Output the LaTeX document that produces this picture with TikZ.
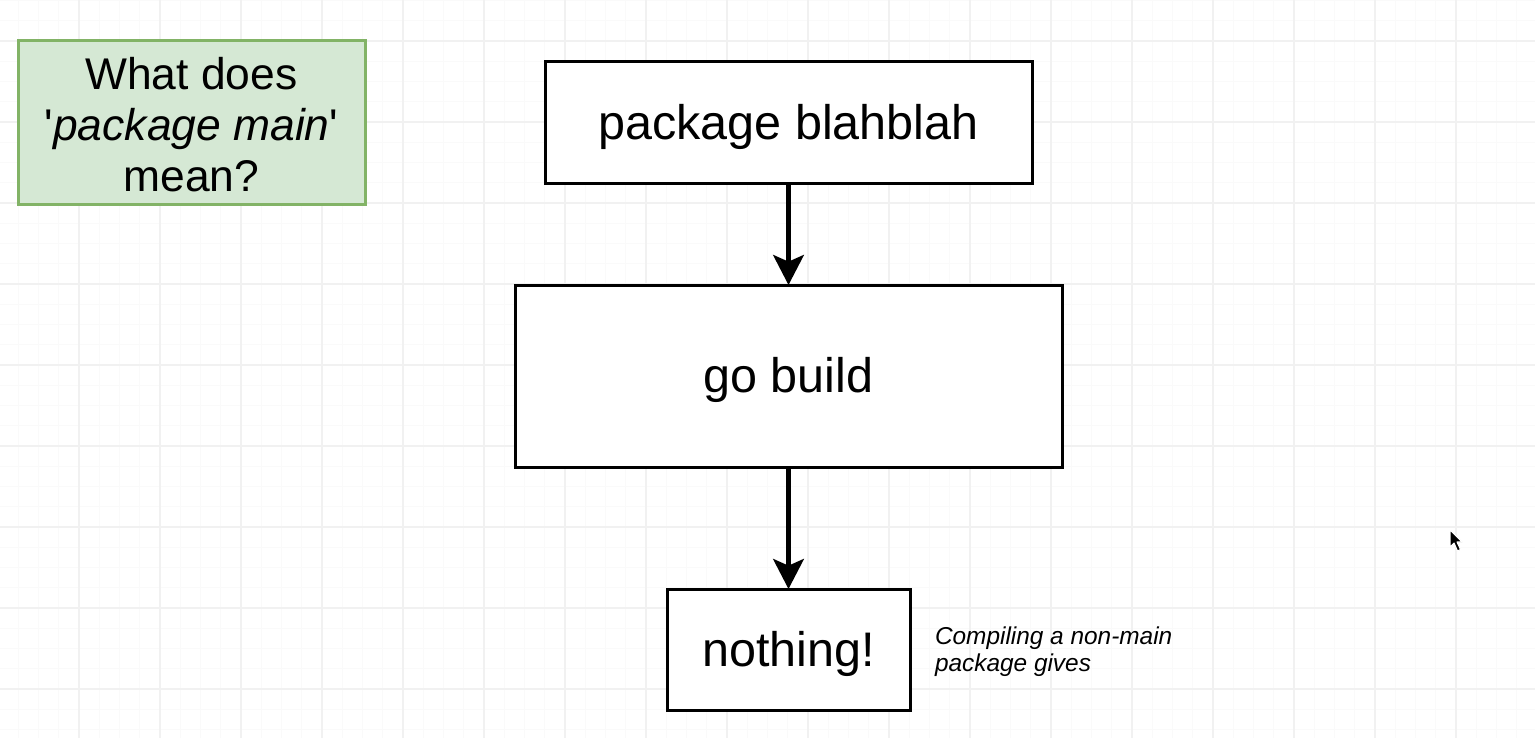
\documentclass[tikz,border=0pt]{standalone}
\usepackage{fontspec}
\setmainfont{Liberation Sans}
\usetikzlibrary{arrows.meta}
\definecolor{gfill}{HTML}{D5E8D4}
\definecolor{gline}{HTML}{82B366}
\definecolor{gridmaj}{HTML}{F1F1F1}
\definecolor{gridmin}{HTML}{FAFAFA}
\tikzset{
  px/.style={x=0.75pt,y=-0.75pt},
  stepbox/.style={draw=black,line width=2.25pt,fill=white,inner sep=0pt,outer sep=0pt,
     text height=30pt,text depth=5.25pt,
     font=\fontsize{36.4}{42}\selectfont},
  notebox/.style={draw=gline,line width=2.25pt,fill=gfill,inner sep=0pt,outer sep=0pt,align=center,
     font=\fontsize{33.3}{38.25}\selectfont},
  flow/.style={line width=3.3pt,-{Stealth[length=22.5pt,width=23pt,inset=5pt]}},
  caption/.style={inner sep=0pt,outer sep=0pt,align=left,font=\fontsize{18.3}{20.25}\selectfont\itshape}
}
\begin{document}
\begin{tikzpicture}[px]
\useasboundingbox (0,0) rectangle (1535,738);
\fill[white] (0,0) rectangle (1535,738);
% minor grid
\foreach \i in {0,...,76} {\draw[gridmin,line width=0.6pt] ({-2.25+20.25*\i},0) -- ({-2.25+20.25*\i},738);}
\foreach \j in {0,...,37} {\draw[gridmin,line width=0.6pt] (0,{0.5+20.25*\j}) -- (1535,{0.5+20.25*\j});}
% major grid
\foreach \i in {0,...,19} {\draw[gridmaj,line width=0.8pt] ({-2+81*\i},0) -- ({-2+81*\i},738);}
\foreach \j in {0,...,9} {\draw[gridmaj,line width=0.8pt] (0,{41+81*\j}) -- (1535,{41+81*\j});}

\node[notebox,minimum width=260.25pt,minimum height=123pt] (q) at (191.5,123)
  {\raisebox{-5.5pt}[\height][\depth]{\begin{tabular}{@{}c@{}}What does\\\textquotesingle\textit{package main}\textquotesingle\\mean?\end{tabular}}};
\node[stepbox,minimum width=365.25pt,minimum height=91.5pt] (pkg) at (788.5,123) {package blahblah};
\node[stepbox,minimum width=410.25pt,minimum height=136.5pt] (build) at (788.5,376) {go build};
\node[stepbox,minimum width=182.25pt,minimum height=90.75pt] (nothing) at (788.5,649.5) {nothing!};
\node[caption,anchor=north west] (cap) at (935,627) {Compiling a non-main\\package gives};

\draw[flow] (pkg.south) -- (build.north);
\draw[flow] (build.south) -- (nothing.north);

% mouse pointer
\filldraw[fill=black,draw=white,line width=0.8pt,line join=round]
  (1450,530) -- (1450,547) -- (1454,543) -- (1457.5,551) -- (1460.5,549.5) -- (1457,542) -- (1462,542) -- cycle;
\end{tikzpicture}
\end{document}
